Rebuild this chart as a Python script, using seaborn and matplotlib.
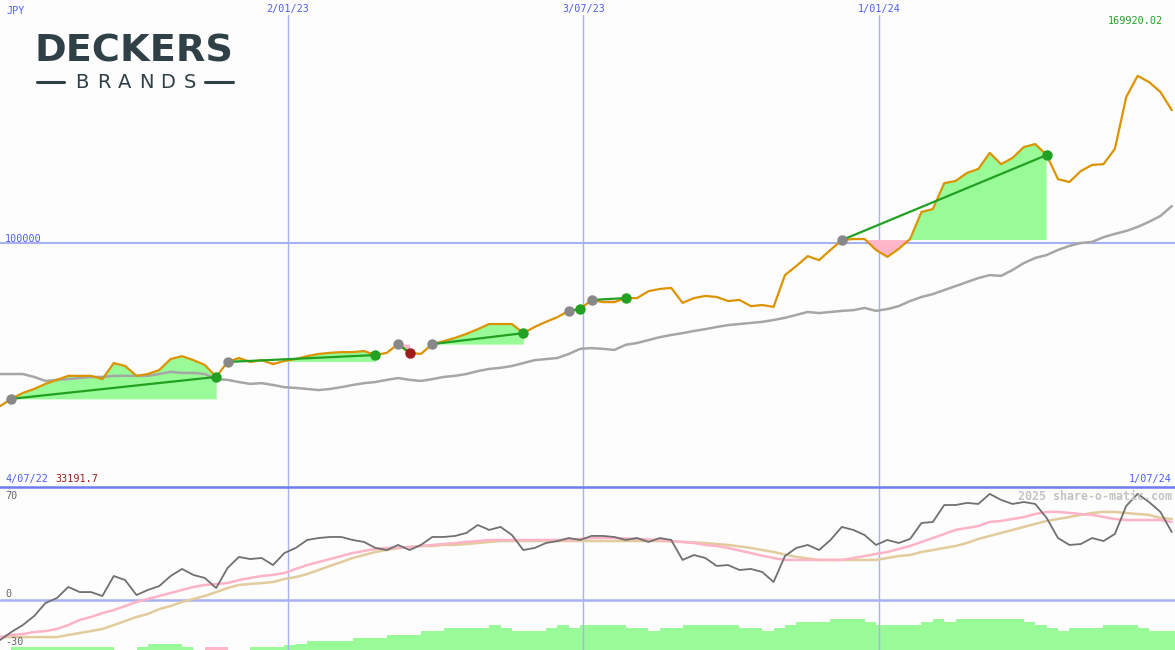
import numpy as np
import pandas as pd
import matplotlib
matplotlib.use("Agg")
import matplotlib.pyplot as plt
import seaborn as sns
from matplotlib.lines import Line2D

# weekly closes (JPY)
weeks = pd.date_range("2022-07-09", periods=104, freq="7D")

price = [55300, 57300, 58900, 60000, 61400, 62500, 63600, 63600, 63600, 62700,
         67100, 66300, 63600, 64100, 65200, 68200, 69000, 67900, 66600, 63300,
         67400, 68500, 67400, 67900, 66800, 67700, 68200, 69000, 69600, 69900,
         70100, 70100, 70400, 69300, 69900, 72300, 69900, 69600, 72300, 73100,
         74000, 75100, 76400, 77800, 77800, 77800, 75300, 77000, 78400, 79700,
         81400, 81900, 84400, 83800, 83800, 84900, 84900, 86800, 87400, 87700,
         83600, 84900, 85500, 85200, 84100, 84400, 82700, 83000, 82500, 91200,
         93700, 96400, 95300, 98100, 100800, 101100, 101100, 98100, 96200, 98400,
         101100, 108500, 109300, 116400, 117000, 119200, 120300, 124700, 121600, 123300,
         126300, 127100, 124100, 117500, 116700, 119700, 121400, 121600, 125800, 140000,
         145800, 144100, 141400, 136400]

avg_line = [64100, 64100, 64100, 63300, 62200, 62500, 62700, 63000, 63300, 63300,
            63600, 63600, 63600, 63600, 64100, 64700, 64400, 64400, 64100, 62700,
            62500, 61900, 61400, 61600, 61100, 60500, 60300, 60000, 59700, 60000,
            60500, 61100, 61600, 61900, 62500, 63000, 62500, 62200, 62700, 63300,
            63600, 64100, 64900, 65500, 65800, 66300, 67100, 67900, 68200, 68500,
            69600, 71000, 71200, 71000, 70700, 72100, 72600, 73400, 74200, 74800,
            75300, 75900, 76400, 77000, 77500, 77800, 78100, 78400, 78900, 79500,
            80300, 81100, 80800, 81100, 81400, 81600, 82200, 81400, 81900, 82700,
            84100, 85200, 86000, 87100, 88200, 89300, 90400, 91200, 91000, 92600,
            94500, 95900, 96700, 98100, 99200, 100000, 100300, 101600, 102500, 103300,
            104400, 105800, 107400, 110100]

# lower panel
osc = [-26.7, -21.3, -16.7, -10.7, -2, 1.3, 8.7, 5.3, 5.3, 2.7,
       16, 13.3, 3.3, 6.7, 9.3, 16, 20.7, 16.7, 14.7, 8,
       21.3, 28.7, 27.3, 28, 23.3, 31.3, 34.7, 40, 41.3, 42,
       42, 40, 38.7, 34.7, 33.3, 36.7, 33.3, 36.7, 42, 42,
       42.7, 44.7, 50, 46.7, 48.7, 43.3, 33.3, 34.7, 38, 39.3,
       41.3, 40, 42.7, 42.7, 42, 40, 41.3, 38.7, 41.3, 40,
       26.7, 30, 28, 22.7, 23.3, 20, 20.7, 18.7, 12, 29.3,
       34.7, 36.7, 33.3, 40, 48.7, 46.7, 43.3, 36.7, 40, 38,
       40.7, 51.3, 52, 63.3, 63.3, 64.7, 64, 70.7, 66.7, 64,
       65.3, 64, 54.7, 41.3, 36.7, 37.3, 41.3, 39.3, 44, 62.7,
       70.7, 65.3, 58.7, 45.3]

osc_fast = [-24.7, -23.3, -22.7, -21.3, -20.7, -19.3, -16.7, -13.3, -11.3, -8.7,
            -6.7, -4, -1.3, 0.7, 2.7, 4.7, 6.7, 8.7, 10, 10.7,
            11.3, 13.3, 14.7, 16, 16.7, 18, 20.7, 23.3, 25.3, 27.3,
            29.3, 31.3, 32.7, 34, 34.7, 34.7, 35.3, 36, 36.7, 37.3,
            38, 38.7, 39.3, 40, 40, 40, 40, 40, 40, 40,
            40, 40.7, 41.3, 41.3, 41.3, 41, 40.7, 40.3, 40, 39.3,
            38.7, 38, 36.7, 36, 34.7, 33, 31.3, 29.5, 28, 26.7,
            26.7, 26.7, 26.7, 26.7, 26.7, 28, 29.3, 30.7, 32, 34,
            36, 38.7, 41.3, 44, 46.7, 48, 49.3, 52, 52.7, 54,
            55.3, 57.3, 58.7, 58.7, 58, 57.3, 56.7, 55.3, 54, 53.3,
            53.3, 53.3, 53.3, 52]

osc_slow = [-24.7, -24.7, -24.7, -24.7, -24.7, -24.7, -23.3, -22, -20.7, -19.3,
            -16.7, -14, -11.3, -9.3, -6, -4, -1.3, 0.7, 2.7, 5.3,
            8, 10, 10.7, 11.3, 12, 14, 15.3, 17.3, 20, 22.7,
            25.3, 28, 30, 32, 33.3, 34.7, 35.3, 36, 36, 36.7,
            36.7, 37.3, 38, 38.7, 39.3, 39.3, 39.3, 39.3, 39.3, 39.3,
            39.3, 39.3, 39.3, 39.3, 39.3, 39.3, 39.3, 39.3, 39.3, 39,
            38.7, 38.3, 38, 37.3, 36.7, 35.7, 34.7, 33.3, 32, 30.3,
            28.7, 27.7, 26.7, 26.7, 26.7, 26.7, 26.7, 26.7, 28, 29.3,
            30, 32, 33.3, 34.7, 36, 38, 40.7, 42.7, 44.7, 46.7,
            48.7, 50.7, 52.7, 54, 55.3, 56.7, 58, 58.7, 58.7, 58,
            57.3, 56.7, 54.7, 54]

vol = [0, 3, 3, 3, 3, 3, 3, 3, 3, 3,
       0, 0, 3, 6, 6, 6, 3, 0, -3, -3,
       0, 0, 3, 3, 3, 5, 6, 9, 9, 9,
       9, 12, 12, 12, 15, 15, 15, 19, 19, 22,
       22, 22, 22, 25, 22, 19, 19, 19, 22, 25,
       22, 25, 25, 25, 25, 22, 22, 19, 22, 22,
       25, 25, 25, 25, 25, 22, 22, 19, 22, 25,
       28, 28, 28, 31, 31, 31, 28, 25, 25, 25,
       25, 28, 31, 28, 31, 31, 31, 31, 31, 31,
       28, 25, 22, 19, 22, 22, 22, 25, 25, 25,
       22, 19, 19, 19]

# (entry week, exit week)
trades = [(1, 19), (20, 33), (35, 36), (38, 46), (50, 51), (52, 55), (74, 92)]

grid_dates = ["2023-01-02", "2023-07-03", "2024-01-01"]
grid_labels = ["2/01/23", "3/07/23", "1/01/24"]

df = pd.DataFrame({"week": weeks, "price": price, "avg": avg_line,
                   "osc": osc, "fast": osc_fast, "slow": osc_slow, "vol": vol})

sns.set_style("white")
plt.rcParams["font.family"] = ["DejaVu Sans Mono"]

W, H = 1175, 650
bg = "#fcfdfc"
blue_txt = "#4f5ff2"
grid_c = "#a9b1f5"

fig = plt.figure(figsize=(W / 100, H / 100), dpi=100, facecolor=bg)
split = 163 / H
ax1 = fig.add_axes([0, split, 1, 1 - split])
axv = fig.add_axes([0, 0, 1, split])
ax2 = fig.add_axes([0, 0, 1, split])
for a in (ax1, axv, ax2):
    a.set_axis_off()
    a.patch.set_visible(False)

x0, x1 = pd.Timestamp("2022-07-09"), pd.Timestamp("2024-07-01")

# grid
for d in grid_dates:
    ax1.axvline(pd.Timestamp(d), ymax=0.97, color=grid_c, lw=1.0, zorder=0)
    ax2.axvline(pd.Timestamp(d), color=grid_c, lw=1.0, zorder=0)
ax1.axhline(100000, color=grid_c, lw=1.5, zorder=0)
ax2.axhline(0, color=grid_c, lw=1.8, zorder=0)

# trade shading
for a, b in trades:
    seg = df.iloc[a:b + 1]
    base = price[a]
    ax1.fill_between(seg["week"], seg["price"], base, where=seg["price"] >= base,
                     interpolate=True, color="#98fb98", lw=0, zorder=1)
    ax1.fill_between(seg["week"], seg["price"], base, where=seg["price"] <= base,
                     interpolate=True, color="#ffb6c8", lw=0, zorder=1)

sns.lineplot(data=df, x="week", y="avg", color="#a6a6a6", lw=1.8, ax=ax1, zorder=2)
sns.lineplot(data=df, x="week", y="price", color="#dc9300", lw=1.6, ax=ax1, zorder=3)

for a, b in trades:
    win = price[b] >= price[a]
    ax1.plot([weeks[a], weeks[b]], [price[a], price[b]], color="#22a022", lw=1.6, zorder=4)
    ax1.plot(weeks[a], price[a], "o", ms=6.5, color="#888888", zorder=5)
    ax1.plot(weeks[b], price[b], "o", ms=6.5,
             color="#22a022" if win else "#a01c1c", zorder=5)

ax1.set_xlim(x0, x1)
ax1.set_ylim(33144, 166582)

# lower panel
axv.bar(df["week"], df["vol"].abs(), width=7, align="edge", lw=0,
        color=["#98fb98" if v >= 0 else "#ffb6c8" for v in vol])
axv.set_xlim(x0, x1)
axv.set_ylim(0, 163)
sns.lineplot(data=df, x="week", y="slow", color="#e2cb9c", lw=1.8, ax=ax2)
sns.lineplot(data=df, x="week", y="fast", color="#ffb3c6", lw=1.8, ax=ax2)
sns.lineplot(data=df, x="week", y="osc", color="#707070", lw=1.3, ax=ax2)
ax2.set_xlim(x0, x1)
ax2.set_ylim(-33.3, 75.3)
for a in (ax1, axv, ax2):
    a.set_axis_off()

# panel separator
fig.add_artist(Line2D([0, 1], [split, split], color="#6d7df0", lw=1.8))


def fx(x, y):
    return x / W, 1 - y / H


fs = 7.3
fig.text(*fx(6, 11), "JPY", color=blue_txt, fontsize=fs, va="center")
for d, lab in zip(grid_dates, grid_labels):
    xx = (pd.Timestamp(d) - x0) / (x1 - x0)
    fig.text(xx, 1 - 9 / H, lab, color=blue_txt, fontsize=fs, ha="center", va="center")
fig.text(*fx(1163, 21), "169920.02", color="#22a022", fontsize=fs, ha="right", va="center")
fig.text(*fx(5, 239), "100000", color=blue_txt, fontsize=fs, va="center")
fig.text(*fx(5, 479), "4/07/22", color=blue_txt, fontsize=fs, va="center")
fig.text(*fx(55, 479), "33191.7", color="#a01c1c", fontsize=fs, va="center")
fig.text(*fx(1172, 479), "1/07/24", color=blue_txt, fontsize=fs, ha="right", va="center")
fig.text(*fx(5, 496), "70", color="#666666", fontsize=fs, va="center")
fig.text(*fx(5, 594), "0", color="#666666", fontsize=fs, va="center")
fig.text(*fx(5, 642), "-30", color="#666666", fontsize=fs, va="center")
fig.text(*fx(1172, 496), "2025 share-o-matic.com", color="#c4c4c4", fontsize=8.4,
         fontweight="bold", ha="right", va="center")

# logo
logo_c = "#2f4047"
fig.text(*fx(134, 51), "DECKERS", color=logo_c, fontsize=27.5, fontweight="bold",
         family="DejaVu Sans", ha="center", va="center")
for i, ch in enumerate("BRANDS"):
    fig.text(*fx(82 + i * 21.5, 83), ch, color=logo_c, fontsize=14,
             family="DejaVu Sans", ha="center", va="center")
for xa, xb in [(37, 64), (205, 233)]:
    fig.add_artist(Line2D([xa / W, xb / W], [1 - 82 / H, 1 - 82 / H], color=logo_c, lw=2.2))

fig.savefig("out.png", dpi=100, facecolor=bg)
